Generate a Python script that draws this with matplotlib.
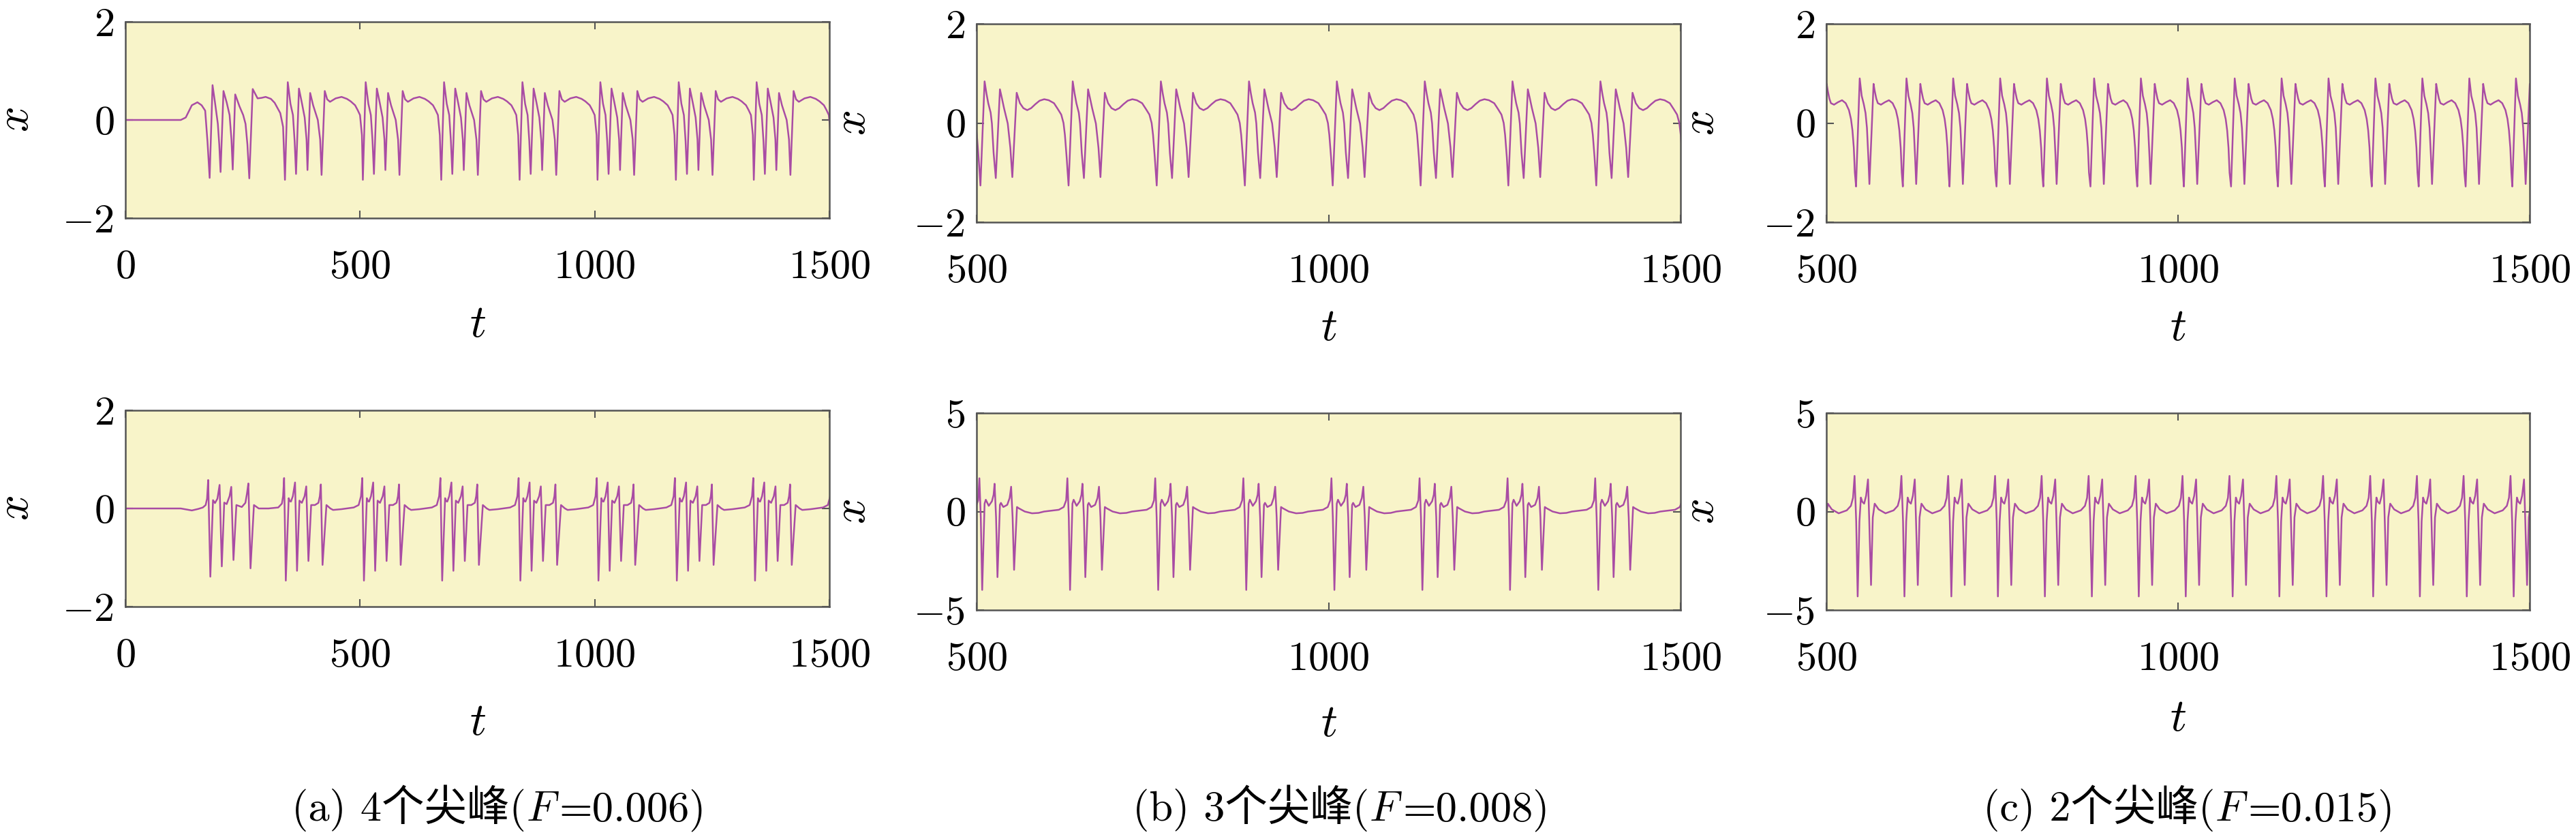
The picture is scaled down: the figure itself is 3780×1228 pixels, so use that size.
import numpy as np
import matplotlib
matplotlib.use('Agg')
import matplotlib.pyplot as plt
from matplotlib.offsetbox import TextArea, HPacker, AnnotationBbox

plt.rcParams['mathtext.fontset'] = 'cm'
plt.rcParams['font.family'] = ['cmr10', 'Noto Sans CJK SC', 'DejaVu Sans']

W, H, DPI = 3780, 1228, 300
BG = '#f8f4c9'
LINE = '#a94ca4'
EDGE = '#555555'

# ---------------- data ----------------
# Each trace = optional lead-in points + one burst cycle repeated at the
# burst times (time of the first trough of every burst).

# (a) F=0.006, top row
a_top_lead_t = [0, 118, 128.6, 141.6, 153.5, 162.4, 170, 175, 179.5, 185.7, 191, 197, 200, 202.8,
                209, 216, 222, 226, 228.7, 234, 243, 251, 256, 260, 264, 271.3, 281.7, 290,
                298.8, 310, 318, 330, 336]
a_top_lead_x = [0, 0, 0.05, 0.30, 0.36, 0.30, 0.19, -0.45, -1.18, 0.71, 0.35, -0.08, -0.5, -1.06,
                0.59, 0.35, 0.10, -0.4, -1.01, 0.52, 0.28, 0.10, -0.08, -0.5, -1.19, 0.63, 0.44, 0.45,
                0.47, 0.43, 0.35, 0.14, -0.14]
a_top_bursts = [340, 506, 673, 840, 1006, 1173, 1339]
a_top_cycle_dt = [0, 6, 11.7, 17, 20.6, 23.6, 29.8, 36, 42, 46, 48, 53.7, 60, 70, 75, 78, 84.8,
                  90, 96, 108, 120.6, 132, 140, 149.4, 155, 159.9, 164]
a_top_cycle_x = [-1.22, 0.77, 0.33, 0.10, -0.43, -1.10, 0.64, 0.35, 0.05, -0.4, -1.02, 0.55, 0.30,
                 0.0, -0.4, -1.12, 0.59, 0.42, 0.37, 0.44, 0.47, 0.43, 0.38, 0.30, 0.20, 0.10, -0.31]

# (a) F=0.006, bottom row
a_bot_lead_t = [0, 118, 130, 141.6, 155, 165, 171, 174, 176.4, 181, 186.7, 190.9, 196.1, 200.7,
                205.4, 210.6, 215.8, 222, 225.6, 230.3, 236.5, 248, 255.7, 259, 262, 266.6, 273.9,
                284.2, 305, 325.7, 333.5, 336, 338.2]
a_bot_lead_x = [0, 0, -0.02, -0.04, -0.01, 0.02, 0.07, 0.2, 0.58, -1.39, 0.17, 0.11, 0.2, 0.48,
                -1.18, 0.12, 0.09, 0.25, 0.44, -1.05, 0.07, 0.03, 0.115, 0.3, 0.51, -1.22, 0.07,
                0.0, 0.0, 0.02, 0.10, 0.25, 0.62]
a_bot_bursts = [341.8, 508.3, 675, 841.6, 1008, 1175, 1341.6]
a_bot_cycle_dt = [0, 6.2, 8.5, 10.9, 15, 19.7, 23.9, 29.1, 34.2, 40, 43.6, 48.2, 54, 62, 69.5,
                  72.5, 74.7, 78.3, 86.6, 95, 100.7, 118.8, 144.7, 155.2, 160.2, 162.9]
a_bot_cycle_x = [-1.47, 0.21, 0.15, 0.14, 0.25, 0.53, -1.27, 0.16, 0.115, 0.25, 0.45, -1.07, 0.07,
                 0.07, 0.115, 0.25, 0.49, -1.15, 0.07, 0.0, -0.03, -0.014, 0.02, 0.07, 0.25, 0.62]

# (b) F=0.008, top row
b_top_bursts = [380.4, 505.5, 630.7, 755.9, 881.1, 1005.9, 1130.8, 1255.4, 1380.3]
b_top_cycle_dt = [0, 5.9, 8.5, 11.1, 14.5, 16.3, 18.7, 21.8, 27.7, 30.5, 33.5, 38.8, 42.5, 45.3,
                  51.5, 56.1, 61, 66.4, 72, 78, 84, 90.6, 97, 104.5, 110, 114.8, 118, 120, 122.5]
b_top_cycle_x = [-1.26, 0.84, 0.60, 0.40, 0.21, -0.01, -0.6, -1.11, 0.68, 0.50, 0.30, -0.01, -0.5,
                 -1.09, 0.61, 0.40, 0.30, 0.26, 0.30, 0.38, 0.45, 0.48, 0.46, 0.40, 0.28, 0.17, 0.0,
                 -0.24, -0.7]

# (b) F=0.008, bottom row
b_bot_bursts = [383.0, 508.0, 632.8, 758.0, 883.1, 1008.3, 1133.3, 1257.8, 1383.2]
b_bot_cycle_dt = [0, 3.4, 5.1, 9.3, 13.8, 16.2, 17.6, 19.7, 21.7, 25.2, 26.6, 30, 35.6, 39, 41.1,
                  43.2, 45.3, 49.4, 51.8, 60.5, 70.8, 80, 88, 108.9, 115.8, 119.3, 121, 123]
b_bot_cycle_x = [-3.98, 0.40, 0.60, 0.29, 0.52, 0.85, 1.41, -0.3, -3.33, 0.34, 0.44, 0.23, 0.34,
                 0.69, 1.26, -0.3, -2.96, 0.23, 0.17, 0.0, -0.09, -0.07, 0.0, 0.09, 0.23, 0.57,
                 1.69, -0.3]

# (c) F=0.015, top row
c_top_bursts = [475.5, 542.2, 608.7, 675.1, 741.9, 808.4, 875.5, 942.0, 1008.3, 1075.4, 1142.1,
                1208.8, 1275.5, 1342.2, 1409.0, 1475.3]
c_top_cycle_dt = [0, 5.2, 8, 11, 13.5, 15.5, 17.5, 19, 24.9, 26.5, 28.8, 31, 35.4, 41, 46.8, 52,
                  56.6, 59.5, 61.6, 63.5, 65]
c_top_cycle_x = [-1.28, 0.90, 0.55, 0.38, 0.20, -0.10, -0.70, -1.23, 0.79, 0.65, 0.49, 0.40, 0.37,
                 0.42, 0.46, 0.40, 0.26, 0.08, -0.15, -0.5, -1.0]

# (c) F=0.015, bottom row
c_bot_bursts = [477.9, 544.5, 611.0, 677.7, 743.9, 810.7, 877.5, 944.2, 1011.0, 1077.7, 1144.1,
                1211.1, 1277.5, 1343.9, 1410.6, 1477.3]
c_bot_cycle_dt = [0, 2.5, 4.6, 6.5, 9.2, 12, 14.7, 16.5, 19, 21.5, 24.2, 29.8, 39.6, 51.1, 57, 60,
                  62.2, 64.5]
c_bot_cycle_x = [-4.31, -0.5, 0.71, 0.50, 0.40, 0.80, 1.63, -0.5, -3.73, -0.3, 0.40, 0.11, -0.09,
                 0.06, 0.29, 0.70, 1.81, -0.5]

captions = [('(a) 4个尖峰', '0.006'), ('(b) 3个尖峰', '0.008'), ('(c) 2个尖峰', '0.015')]


def trace(bursts, cycle_dt, cycle_x, lead_t=(), lead_x=()):
    t = [np.asarray(lead_t, float)] + [b + np.asarray(cycle_dt, float) for b in bursts]
    x = [np.asarray(lead_x, float)] + [np.asarray(cycle_x, float)] * len(bursts)
    return np.concatenate(t), np.concatenate(x)


panels = [
    # trace, xlim, xticks, ylim, yticks, rect px (l, t, r, b), ylabel x px, xlabel y px
    (trace(a_top_bursts, a_top_cycle_dt, a_top_cycle_x, a_top_lead_t, a_top_lead_x),
     (0, 1500), [0, 500, 1000, 1500], (-2, 2), [-2, 0, 2], (184, 32, 1217, 320), 24, 477),
    (trace(b_top_bursts, b_top_cycle_dt, b_top_cycle_x),
     (500, 1500), [500, 1000, 1500], (-2, 2), [-2, 0, 2], (1433, 35, 2466, 326), 1252, 482),
    (trace(c_top_bursts, c_top_cycle_dt, c_top_cycle_x),
     (500, 1500), [500, 1000, 1500], (-2, 2), [-2, 0, 2], (2680, 35, 3712, 326), 2497, 482),
    (trace(a_bot_bursts, a_bot_cycle_dt, a_bot_cycle_x, a_bot_lead_t, a_bot_lead_x),
     (0, 1500), [0, 500, 1000, 1500], (-2, 2), [-2, 0, 2], (184, 602, 1217, 890), 24, 1061),
    (trace(b_bot_bursts, b_bot_cycle_dt, b_bot_cycle_x),
     (500, 1500), [500, 1000, 1500], (-5, 5), [-5, 0, 5], (1433, 606, 2466, 895), 1252, 1063),
    (trace(c_bot_bursts, c_bot_cycle_dt, c_bot_cycle_x),
     (500, 1500), [500, 1000, 1500], (-5, 5), [-5, 0, 5], (2680, 606, 3712, 895), 2497, 1055),
]

fig = plt.figure(figsize=(W / DPI, H / DPI), dpi=DPI)

for (t, x), xlim, xticks, ylim, yticks, (l, tp, r, b), ylab_px, xlab_px in panels:
    ax = fig.add_axes([l / W, 1 - b / H, (r - l) / W, (b - tp) / H])
    ax.set_facecolor(BG)
    ax.plot(t, x, color=LINE, lw=0.6)
    ax.set_xlim(xlim)
    ax.set_ylim(ylim)
    ax.set_xticks(xticks)
    ax.set_xticklabels(['$%d$' % v for v in xticks])
    ax.set_yticks(yticks)
    ax.set_yticklabels(['$%d$' % v for v in yticks])
    ax.tick_params(direction='in', top=True, right=True, length=2.6, width=0.5,
                   color=EDGE, labelsize=14.5)
    ax.tick_params(axis='x', pad=11)
    ax.tick_params(axis='y', pad=4)
    for s in ax.spines.values():
        s.set_color(EDGE)
        s.set_linewidth(0.6)
    ax.set_ylabel('$x$', fontsize=16, va='center')
    ax.yaxis.set_label_coords((ylab_px - l) / (r - l), 0.5)
    ax.set_xlabel('$t$', fontsize=16, va='center')
    ax.xaxis.set_label_coords(0.5, -(xlab_px - b) / (b - tp))

# sub-captions, mixed Chinese text and math italic F
cap_x = [732, 1968, 3212]
cap_y = 1186
for (head, fval), xc in zip(captions, cap_x):
    kw = dict(fontsize=15, family=['cmr10', 'Noto Sans CJK SC'], fontweight='light')
    parts = [TextArea(head + '(', textprops=kw),
             TextArea('$F$', textprops=dict(fontsize=15)),
             TextArea('=' + fval + ')', textprops=kw)]
    box = HPacker(children=parts, align='baseline', pad=0, sep=0)
    ab = AnnotationBbox(box, (xc / W, 1 - cap_y / H), xycoords='figure fraction',
                        frameon=False, box_alignment=(0.5, 0.5), pad=0)
    fig.add_artist(ab)

fig.savefig('out.png', dpi=DPI, facecolor='white')
